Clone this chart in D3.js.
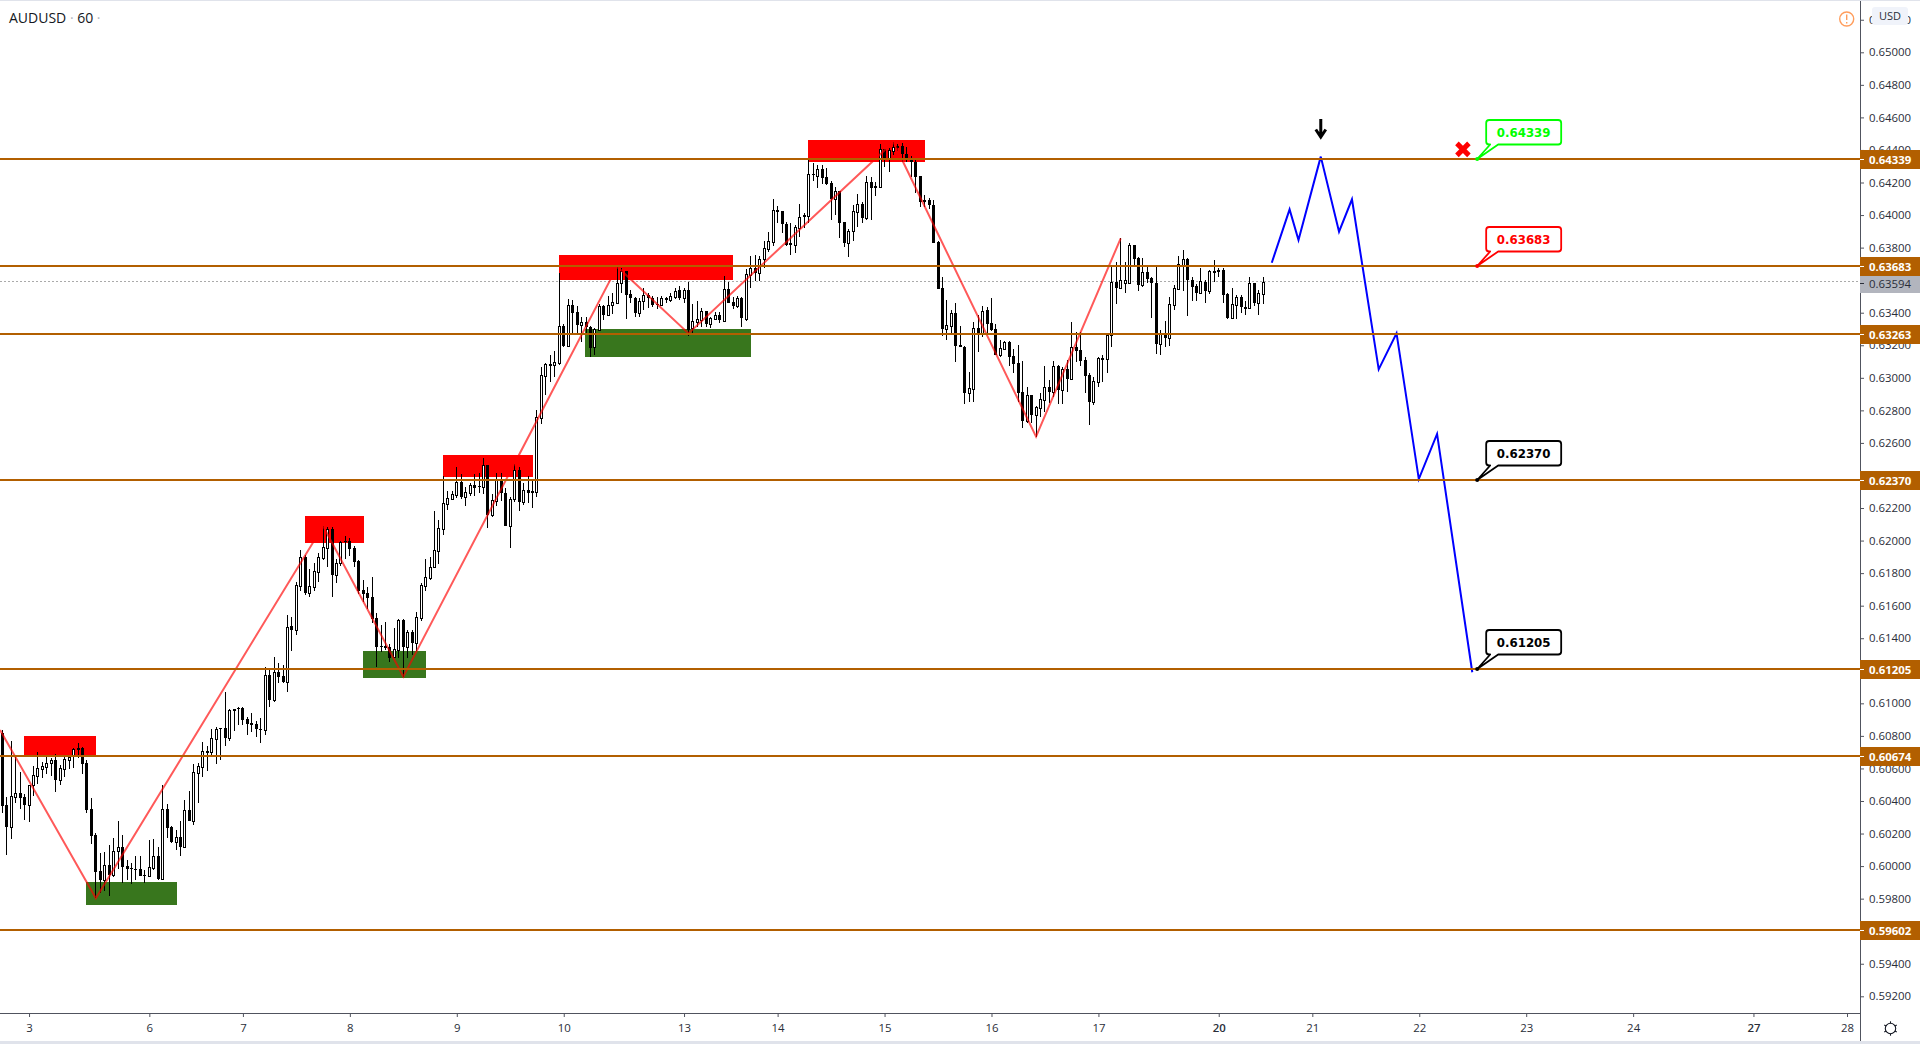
<!DOCTYPE html>
<html>
<head>
<meta charset="utf-8">
<title>AUDUSD 60</title>
<script src="https://cdn.jsdelivr.net/npm/d3@7"></script>
<style>
body { margin: 0; background: #fff; overflow: hidden; }
svg { display: block; font-family: "Open Sans", sans-serif; }
</style>
</head>
<body>
<svg id="chart" width="1920" height="1044"></svg>
<script>
// all prices in points (1 point = 0.00001)
var opens = [
60819,60373,60242,60426,60447,60422,60377,60496,60555,60598,
60611,60631,60651,60531,60598,60651,60676,60723,60725,60631,
60348,60189,59967,59914,60004,59947,60090,60115,59998,59986,
59982,59980,59943,59941,59990,60062,59922,60348,60240,60150,
60176,60119,60342,60279,60574,60611,60703,60703,60783,60846,
60846,60789,60963,60969,60969,60901,60879,60873,60842,60838,
61172,61021,61193,61168,61131,61473,61453,61721,61897,61680,
61717,61809,61895,61957,62069,61791,61861,61996,61996,61953,
61873,61695,61676,61652,61523,61351,61351,61344,61283,61328,
61512,61348,61437,61373,61525,61723,61772,61836,61938,62073,
62227,62256,62282,62358,62270,62295,62340,62334,62331,62463,
62157,62243,62372,62290,62092,62258,62432,62239,62309,62303,
62301,62755,63013,63081,63081,63093,63318,63195,63445,63404,
63327,63343,63314,63187,63294,63441,63388,63445,63460,63580,
63654,63513,63488,63400,63470,63509,63488,63454,63449,63482,
63480,63497,63537,63490,63537,63306,63345,63355,63408,63333,
63361,63384,63351,63544,63466,63441,63488,63361,63632,63673,
63646,63728,63793,63836,64031,64023,63945,63826,63818,63923,
64000,63994,64252,64242,64281,64232,64195,64099,64146,63955,
63830,63900,64021,64066,63982,64201,64178,64174,64404,64353,
64396,64418,64424,64375,64338,64326,64240,64092,64090,64060,
63834,63550,63302,63318,63396,63200,63191,62909,62933,63306,
63273,63417,63339,63298,63140,63175,63220,63134,63089,62913,
62733,62895,62774,62817,62864,62944,62915,63073,62926,63055,
62991,63188,63171,63110,63018,62854,62977,63118,63118,63261,
63587,63554,63585,63585,63814,63735,63573,63648,63612,63581,
63210,63270,63245,63450,63548,63696,63728,63603,63562,63524,
63589,63536,63653,63661,63663,63515,63368,63450,63495,63431,
63431,63581,63462,63517];
var highs = [
60836,60422,60768,60668,60578,60440,60496,60615,60701,60639,
60676,60666,60688,60619,60672,60680,60727,60754,60729,60651,
60418,60201,60082,60086,60131,60172,60279,60191,60037,60021,
60062,60062,59976,60160,60168,60115,60496,60381,60246,60221,
60279,60406,60461,60627,60631,60762,60738,60844,60856,60850,
61069,60967,60963,60975,60975,60918,60942,60893,60907,61226,
61205,61287,61246,61234,61543,61529,61744,61942,61914,61826,
61865,61922,62090,62086,62082,61885,61996,62028,62014,61967,
61881,61758,61717,61774,61553,61482,61500,61363,61461,61518,
61518,61451,61451,61561,61742,61887,61901,62182,62127,62397,
62307,62307,62450,62409,62327,62352,62409,62413,62506,62463,
62284,62413,62413,62321,62270,62469,62450,62352,62397,62372,
62803,63068,63093,63140,63165,63642,63331,63482,63478,63441,
63376,63376,63320,63304,63453,63447,63503,63519,63683,63673,
63658,63540,63494,63488,63550,63519,63503,63499,63503,63499,
63519,63554,63564,63550,63589,63453,63472,63427,63413,63376,
63406,63406,63626,63589,63499,63503,63494,63667,63748,63755,
63748,63843,63898,64097,64056,64025,63955,63949,63939,64068,
64011,64338,64318,64308,64308,64287,64209,64174,64150,63959,
63912,64062,64129,64082,64240,64236,64205,64437,64404,64410,
64449,64437,64441,64416,64363,64342,64240,64125,64103,64092,
63843,63617,63478,63417,63462,63318,63195,63038,63345,63386,
63441,63437,63488,63331,63232,63228,63228,63175,63202,63102,
62946,62895,62827,62905,63073,62987,63102,63079,63065,63110,
63343,63282,63282,63130,63028,63008,63130,63141,63274,63683,
63712,63857,63710,63831,63816,63745,63735,63687,63622,63683,
63294,63347,63495,63569,63749,63784,63735,63618,63577,63673,
63601,63663,63724,63673,63673,63519,63550,63509,63509,63470,
63620,63585,63540,63620];
var lows = [
60328,60070,60168,60389,60352,60283,60271,60430,60504,60539,
60565,60553,60455,60500,60547,60598,60602,60664,60565,60328,
60137,59802,59832,59849,59816,59935,59984,59898,59914,59890,
59914,59939,59898,59935,59976,59914,59914,60172,60140,60099,
60062,60111,60275,60250,60389,60549,60586,60682,60629,60651,
60738,60770,60832,60869,60869,60805,60824,60795,60758,60805,
60976,61011,61127,61123,61072,61324,61422,61693,61668,61656,
61693,61748,61881,61840,61656,61742,61846,61889,61906,61840,
61672,61623,61578,61496,61226,61318,61328,61256,61281,61277,
61164,61277,61297,61324,61508,61693,61758,61834,61856,62035,
62188,62254,62260,62258,62213,62274,62274,62295,62284,62080,
62147,62213,62243,62090,61955,62239,62182,62219,62229,62200,
62266,62716,62896,62976,63007,63079,63191,63191,63273,63273,
63222,63273,63130,63140,63290,63355,63380,63392,63453,63519,
63361,63458,63376,63376,63417,63427,63433,63425,63449,63458,
63466,63486,63478,63462,63257,63273,63314,63314,63314,63304,
63355,63335,63347,63458,63425,63427,63314,63347,63554,63597,
63593,63675,63775,63810,63949,63892,63810,63755,63765,63867,
63918,63949,64209,64164,64191,64185,63970,64000,63859,63806,
63744,63843,63925,63949,63970,63970,64117,64170,64297,64267,
64369,64396,64328,64328,64236,64138,64047,64047,64035,63830,
63546,63257,63232,63273,63099,63189,62839,62853,62853,63161,
63253,63273,63290,63142,63126,63171,63073,63028,62853,62694,
62725,62721,62639,62762,62792,62844,62885,62840,62840,62915,
62987,63100,63073,62909,62711,62833,62946,62977,63032,63192,
63454,63554,63524,63581,63683,63536,63556,63581,63370,63147,
63139,63192,63196,63417,63544,63536,63380,63470,63472,63520,
63462,63515,63591,63618,63462,63360,63362,63362,63397,63386,
63425,63442,63386,63454];
var closes = [
60371,60242,60428,60447,60420,60377,60496,60557,60600,60613,
60631,60651,60531,60600,60656,60668,60717,60713,60629,60344,
60187,59965,59914,60004,59947,60090,60115,59996,59982,59980,
59978,59941,59939,59992,60060,59922,60348,60234,60148,60176,
60119,60342,60279,60576,60613,60705,60707,60785,60840,60840,
60789,60957,60955,60963,60897,60873,60869,60840,60838,61172,
61021,61193,61164,61131,61471,61453,61725,61897,61676,61719,
61811,61897,61961,62069,61791,61861,61994,61992,61949,61871,
61688,61672,61647,61516,61346,61346,61340,61281,61332,61512,
61346,61439,61373,61529,61725,61774,61836,61940,62075,62229,
62260,62284,62358,62268,62297,62342,62325,62327,62463,62157,
62248,62372,62290,62090,62258,62432,62239,62309,62295,62295,
62758,63015,63083,63085,63095,63318,63197,63445,63400,63327,
63343,63310,63183,63298,63441,63386,63445,63466,63583,63654,
63511,63488,63400,63470,63507,63488,63447,63445,63488,63488,
63500,63535,63490,63537,63294,63347,63359,63408,63331,63365,
63384,63355,63544,63462,63441,63490,63365,63636,63673,63646,
63730,63796,63839,64031,64021,63943,63816,63816,63925,63990,
63988,64250,64244,64281,64230,64193,64099,64146,63953,63826,
63900,64023,64066,63984,64201,64166,64166,64404,64353,64400,
64420,64422,64373,64353,64324,64236,64082,64082,64060,63830,
63548,63302,63322,63396,63195,63191,62909,62935,63304,63273,
63413,63331,63294,63142,63181,63220,63130,63085,62909,62737,
62895,62772,62819,62868,62944,62913,63071,62926,63053,62993,
63188,63167,63106,63012,62854,62979,63120,63122,63261,63587,
63554,63599,63599,63814,63732,63573,63648,63610,63581,63210,
63270,63245,63452,63550,63698,63728,63603,63560,63524,63593,
63536,63655,63655,63653,63511,63366,63452,63497,63433,63436,
63581,63462,63520,63591];

// horizontal levels
var levels = [64339, 63683, 63263, 62370, 61205, 60674, 59602];
var lastPrice = 63594;

// zones: bar from, bar to, price top, price bottom
var redZones = [
  [4.9, 21, 60799, 60677],
  [67.9, 81.2, 62151, 61985],
  [98.9, 119.1, 62526, 62391],
  [124.9, 164, 63755, 63601],
  [180.8, 207.1, 64461, 64326]
];
var greenZones = [
  [18.8, 39.2, 59902, 59761],
  [80.9, 95.1, 61322, 61156],
  [130.8, 168, 63300, 63128]
];

// swing lines: bar, price
var zigzag = [[-0.5,60836],[21,59802],[72,62090],[90,61164],[138,63683],[154,63273],[200,64449],[232,62639],[251,63857]];
var projection = [[284.9,63707],[288.9,64035],[290.9,63847],[295.9,64359],[300,63898],[302.9,64097],[308.9,63052],[312.9,63274],[317.9,62378],[322,62655],[329.9,61191]];

// callouts: price, colour
var calloutPrices = [64339, 63683, 62370, 61205];
var calloutColors = ["#00ff00", "#ff0000", "#000000", "#000000"];
var calloutBar = 331;

var priceTicks = d3.range(59200, 65201, 200);
var dayBars = [6, 33, 54, 78, 102, 126, 153, 174, 198, 222, 246, 273, 294, 318, 342, 366, 393, 414];
var dayLabels = ["3", "6", "7", "8", "9", "10", "13", "14", "15", "16", "17", "20", "21", "22", "23", "24", "27", "28"];

var plotRight = 1860, plotBottom = 1013;
var orange = "#b25f00";
var fmt = function(p) { return (p / 100000).toFixed(5); };

var xScale = d3.scaleLinear().domain([0, 283]).range([2.3, 1263.3]);
var yScale = d3.scaleLinear().domain([59200, 65000]).range([996.3, 52.3]);

var svg = d3.select("#chart");

// frame bands
svg.append("rect").attr("width", 1920).attr("height", 1).attr("fill", "#e0e3eb");
svg.append("rect").attr("y", 1041).attr("width", 1920).attr("height", 3).attr("fill", "#e0e3eb");

// zones
var zoneRect = function(z, colour) {
  svg.append("rect")
    .attr("x", xScale(z[0])).attr("width", xScale(z[1]) - xScale(z[0]))
    .attr("y", yScale(z[2])).attr("height", yScale(z[3]) - yScale(z[2]))
    .attr("fill", colour).attr("shape-rendering", "crispEdges");
};
redZones.forEach(function(z) { zoneRect(z, "#ff0000"); });
greenZones.forEach(function(z) { zoneRect(z, "#38761d"); });

// last price dotted line
svg.append("line")
  .attr("x1", 0).attr("x2", plotRight)
  .attr("y1", Math.round(yScale(lastPrice)) + 0.5).attr("y2", Math.round(yScale(lastPrice)) + 0.5)
  .attr("stroke", "#aaaaaa").attr("stroke-dasharray", "2,2");

// candles
var candles = svg.append("g").attr("shape-rendering", "crispEdges");
opens.forEach(function(o, i) {
  var c = closes[i];
  var px = Math.floor(xScale(i));
  var top = Math.round(yScale(Math.max(o, c)));
  var bot = Math.round(yScale(Math.min(o, c)));
  candles.append("line")
    .attr("x1", px + 0.5).attr("x2", px + 0.5)
    .attr("y1", yScale(highs[i])).attr("y2", yScale(lows[i]))
    .attr("stroke", "#000");
  if (c >= o) {
    candles.append("rect")
      .attr("x", px - 0.5).attr("width", 2)
      .attr("y", top + 0.5).attr("height", Math.max(bot - top, 1))
      .attr("fill", "#fff").attr("stroke", "#000");
  } else {
    candles.append("rect")
      .attr("x", px - 1).attr("width", 3)
      .attr("y", top).attr("height", Math.max(bot - top, 1))
      .attr("fill", "#000");
  }
});

// swing lines
var swingLine = d3.line()
  .x(function(d) { return xScale(d[0]); })
  .y(function(d) { return yScale(d[1]); });

svg.append("path").attr("d", swingLine(zigzag))
  .attr("fill", "none").attr("stroke", "#ff0000").attr("stroke-opacity", 0.65).attr("stroke-width", 2);
svg.append("path").attr("d", swingLine(projection))
  .attr("fill", "none").attr("stroke", "#0000ff").attr("stroke-width", 2);

// levels
var levelY = function(p) { return Math.round(yScale(p) - 0.7); };
levels.forEach(function(p) {
  svg.append("line")
    .attr("x1", 0).attr("x2", plotRight)
    .attr("y1", levelY(p)).attr("y2", levelY(p))
    .attr("stroke", orange).attr("stroke-width", 2).attr("shape-rendering", "crispEdges");
});

// arrow above the projected top
var ax = xScale(295.9);
svg.append("path")
  .attr("d", "M" + ax + " 119V136M" + (ax - 5) + " 129.5L" + ax + " 137L" + (ax + 5) + " 129.5")
  .attr("fill", "none").attr("stroke", "#000").attr("stroke-width", 3);

// red cross
var crossX = xScale(327.8), crossY = yScale(64339) - 10.5;
svg.append("path")
  .attr("d", "M" + (crossX - 6) + " " + (crossY - 6) + "L" + (crossX + 6) + " " + (crossY + 6) +
    "M" + (crossX + 6) + " " + (crossY - 6) + "L" + (crossX - 6) + " " + (crossY + 6))
  .attr("stroke", "#ff0000").attr("stroke-width", 5);

// callouts
calloutPrices.forEach(function(p, i) {
  var colour = calloutColors[i];
  var g = svg.append("g").attr("transform", "translate(" + xScale(calloutBar) + "," + levelY(p) + ")");
  g.append("path")
    .attr("d", "M0 0L21 -14.5H81a3 3 0 0 0 3 -3V-36a3 3 0 0 0 -3 -3H12a3 3 0 0 0 -3 3V-17.5a3 3 0 0 0 3 3H13Z")
    .attr("fill", "#fff").attr("stroke", colour).attr("stroke-width", 1.8).attr("stroke-linejoin", "round");
  g.append("circle").attr("r", 2).attr("fill", colour);
  g.append("text")
    .attr("x", 46.5).attr("y", -22.5)
    .attr("text-anchor", "middle")
    .style("font-family", "'DejaVu Sans'").style("font-weight", "bold").style("font-size", "11.8px")
    .attr("fill", colour)
    .text(fmt(p));
});

// price axis
var priceAxis = svg.append("g")
  .attr("transform", "translate(" + plotRight + ",0)")
  .call(d3.axisRight(yScale).tickValues(priceTicks).tickSize(4).tickPadding(5).tickFormat(fmt));
priceAxis.select(".domain").remove();
priceAxis.selectAll("line").attr("stroke", "#50535e");
priceAxis.selectAll("text").attr("fill", "#2a2e39").style("font-size", "11.4px").style("font-family", "'Open Sans'");

// time axis
var timeAxis = svg.append("g")
  .attr("transform", "translate(0," + plotBottom + ")")
  .call(d3.axisBottom(xScale).tickValues(dayBars).tickSize(4).tickPadding(7)
    .tickFormat(function(d, i) { return dayLabels[i]; }));
timeAxis.select(".domain").remove();
timeAxis.selectAll("line").attr("stroke", "#50535e");
timeAxis.selectAll("text").attr("fill", "#2a2e39").style("font-size", "11.4px").style("font-family", "'Open Sans'")
  .style("font-weight", function(d, i) { return dayLabels[i] == "27" || dayLabels[i] == "20" ? 600 : 400; });

// axis lines
svg.append("line").attr("x1", 0).attr("x2", plotRight).attr("y1", plotBottom + 0.5).attr("y2", plotBottom + 0.5).attr("stroke", "#50535e");
svg.append("line").attr("x1", plotRight + 0.5).attr("x2", plotRight + 0.5).attr("y1", 1).attr("y2", 1041).attr("stroke", "#50535e");

// price labels, the last price label gets pushed below the level above it
var priceLabel = function(p, fill, textFill, tickFill, weight, shift) {
  var y = levelY(p);
  svg.append("rect").attr("x", plotRight).attr("y", y - 9 + shift).attr("width", 60).attr("height", 19).attr("fill", fill);
  svg.append("line").attr("x1", plotRight).attr("x2", plotRight + 4).attr("y1", y + 0.5 + shift).attr("y2", y + 0.5 + shift).attr("stroke", tickFill);
  svg.append("text").attr("x", plotRight + 9).attr("y", y + 4.5 + shift)
    .attr("fill", textFill).style("font-size", "11.4px").style("font-weight", weight)
    .text(fmt(p));
};
priceLabel(lastPrice, "#b2b5be", "#2a2e39", "#2a2e39", 400, 3);
levels.forEach(function(p) { priceLabel(p, orange, "#fff", "#fff", 700, 0); });

// currency badge
svg.append("rect").attr("x", 1872).attr("y", 7).attr("width", 36).attr("height", 18).attr("rx", 3).attr("fill", "#f0f3fa");
svg.append("text").attr("x", 1890).attr("y", 20).attr("text-anchor", "middle")
  .attr("fill", "#2a2e39").style("font-size", "11px").text("USD");

// warning mark
svg.append("circle").attr("cx", 1846.7).attr("cy", 19).attr("r", 7).attr("fill", "none").attr("stroke", "#ff9d5c").attr("stroke-width", 1.4);
svg.append("path").attr("d", "M1846.7 14.5V20M1846.7 22V23.5").attr("stroke", "#ff9d5c").attr("stroke-width", 1.4);

// settings gear
var gear = svg.append("g").attr("transform", "translate(1890.5,1028.5)")
  .attr("fill", "none").attr("stroke", "#131722");
gear.append("circle").attr("r", 5.2).attr("stroke-width", 1.1);
d3.range(0, 360, 60).forEach(function(a) {
  var r = a * Math.PI / 180 + Math.PI / 6;
  gear.append("line")
    .attr("x1", 5.2 * Math.cos(r)).attr("y1", 5.2 * Math.sin(r))
    .attr("x2", 7.2 * Math.cos(r)).attr("y2", 7.2 * Math.sin(r))
    .attr("stroke-width", 1.1);
});

// title
var title = svg.append("text").attr("x", 9).attr("y", 23).attr("fill", "#131722").style("font-size", "14px");
title.append("tspan").text("AUDUSD");
title.append("tspan").attr("fill", "#b2b5be").text(" · ");
title.append("tspan").text("60");
title.append("tspan").attr("fill", "#b2b5be").text(" ·");
</script>
</body>
</html>
